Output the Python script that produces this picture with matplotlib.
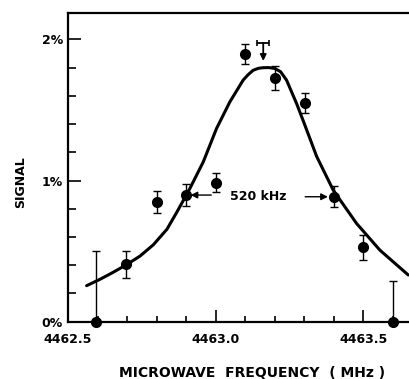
import matplotlib
matplotlib.use("Agg")
import matplotlib.pyplot as plt
from matplotlib.ticker import MultipleLocator, FixedLocator, FixedFormatter

# measured points (frequency in MHz, signal in %)
freq = [4462.595, 4462.697, 4462.8, 4462.9, 4463.0, 4463.1,
        4463.2, 4463.302, 4463.4, 4463.5, 4463.6]
signal = [0.0, 0.406, 0.845, 0.897, 0.983, 1.895,
          1.723, 1.55, 0.885, 0.527, 0.0]
err_lo = [0.0, 0.097, 0.078, 0.079, 0.067, 0.073,
          0.085, 0.073, 0.076, 0.09, 0.0]
err_hi = [0.502, 0.097, 0.078, 0.079, 0.067, 0.073,
          0.085, 0.073, 0.076, 0.09, 0.29]

# fitted line shape
curve_f = [4462.563, 4462.608, 4462.653, 4462.699, 4462.744, 4462.789,
           4462.835, 4462.868, 4462.891, 4462.913, 4462.958, 4463.003,
           4463.048, 4463.093, 4463.11, 4463.127, 4463.145, 4463.161,
           4463.18, 4463.201, 4463.22, 4463.24, 4463.274, 4463.297,
           4463.342, 4463.398, 4463.477, 4463.556, 4463.652]
curve_s = [0.255, 0.300, 0.350, 0.405, 0.465, 0.545,
           0.655, 0.774, 0.861, 0.945, 1.132, 1.369,
           1.557, 1.711, 1.750, 1.781, 1.795, 1.799,
           1.800, 1.793, 1.770, 1.711, 1.545, 1.420,
           1.170, 0.932, 0.696, 0.507, 0.331]

# marker for the expected line position
mark_f = 4463.161
mark_top = 1.974
mark_tip = 1.847

# half-width annotation
fwhm_text = "520 kHz"
fwhm_left = (4462.9, 0.897)
fwhm_right = (4463.4, 0.885)

xticks = [4462.5, 4463.0, 4463.5]
xlabels = ["4462.5", "4463.0", "4463.5"]
yticks = [0, 1, 2]
ylabels = ["0%", "1%", "2%"]

plt.rcParams['font.family'] = 'DejaVu Sans'
plt.rcParams['font.weight'] = 'bold'

fig = plt.figure(figsize=(4.10, 3.79), dpi=100)
ax = fig.add_axes([0.1659, 0.1512, 0.8341, 0.8158])

ax.plot(curve_f, curve_s, color='black', lw=2.2, solid_capstyle='round',
        solid_joinstyle='round', clip_on=False)

ax.errorbar(freq, signal, yerr=[err_lo, err_hi], fmt='o', color='black',
            ms=7, elinewidth=1.0, capsize=3.2, capthick=1.0, clip_on=False,
            zorder=3)

# T marker with arrow
ax.errorbar([mark_f], [mark_top], xerr=[0.02], fmt='none', ecolor='black',
            elinewidth=1.3, capsize=2.5, capthick=1.2)
ax.annotate("", xy=(mark_f, mark_tip), xytext=(mark_f, mark_top),
            arrowprops=dict(arrowstyle='-|>', color='black', lw=1.3,
                            mutation_scale=9, shrinkA=0, shrinkB=0))

# 520 kHz width markers
ax.text(4463.143, 0.89, fwhm_text, ha='center', va='center', fontsize=9,
        fontweight='bold')
ax.annotate("", xy=(fwhm_left[0] + 0.015, fwhm_left[1]),
            xytext=(4462.985, fwhm_left[1]),
            arrowprops=dict(arrowstyle='-|>', color='black', lw=1.0,
                            mutation_scale=10, shrinkA=0, shrinkB=0))
ax.annotate("", xy=(fwhm_right[0] - 0.02, fwhm_right[1]),
            xytext=(4463.303, fwhm_right[1]),
            arrowprops=dict(arrowstyle='-|>', color='black', lw=1.0,
                            mutation_scale=10, shrinkA=0, shrinkB=0))

ax.set_xlim(4462.5, 4463.658)
ax.set_ylim(0, 2.19)

ax.xaxis.set_major_locator(FixedLocator(xticks))
ax.xaxis.set_major_formatter(FixedFormatter(xlabels))
ax.xaxis.set_minor_locator(MultipleLocator(0.1))
ax.yaxis.set_major_locator(FixedLocator(yticks))
ax.yaxis.set_major_formatter(FixedFormatter(ylabels))
ax.yaxis.set_minor_locator(MultipleLocator(0.2))

ax.tick_params(axis='both', which='both', direction='in', width=1.2,
               labelsize=9)
ax.tick_params(axis='x', which='major', length=8.4, pad=8)
ax.tick_params(axis='x', which='minor', length=4.3)
ax.tick_params(axis='y', which='major', length=9, pad=3.6)
ax.tick_params(axis='y', which='minor', length=5.8)

for s in ['left', 'bottom', 'top']:
    ax.spines[s].set_linewidth(1.6)
ax.spines['right'].set_visible(False)

ax.set_xlabel("MICROWAVE  FREQUENCY  ( MHz )", fontsize=10, fontweight='bold')
ax.xaxis.set_label_coords(0.538, -0.166)
ax.xaxis.label.set_verticalalignment('center')
ax.set_ylabel("SIGNAL", fontsize=9, fontweight='bold')
ax.yaxis.set_label_coords(-0.140, 0.452)
ax.yaxis.label.set_verticalalignment('center')

fig.savefig("out.png", dpi=100)
